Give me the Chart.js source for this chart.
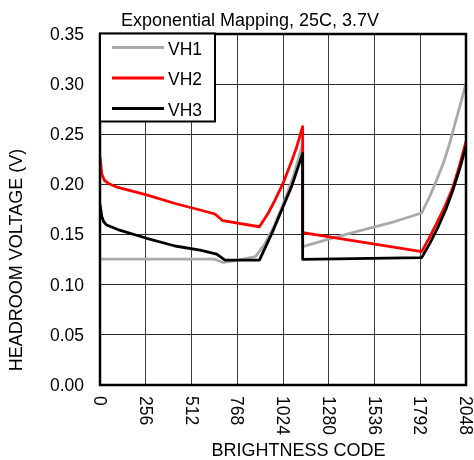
<!DOCTYPE html>
<html>
<head>
<meta charset="utf-8">
<script src="https://cdn.jsdelivr.net/npm/chart.js@4.4.0/dist/chart.umd.min.js"></script>
<style>
  html, body { margin: 0; padding: 0; background: #fff; }
  #wrap { width: 474px; height: 460px; }
</style>
</head>
<body>
<div id="wrap"><canvas id="chart" width="474" height="460"></canvas></div>
<script>
// Headroom voltage vs brightness code
const xTicks = [0, 256, 512, 768, 1024, 1280, 1536, 1792, 2048];
const yTicks = [0.00, 0.05, 0.10, 0.15, 0.20, 0.25, 0.30, 0.35];

const vh1Codes = [0, 640, 690, 760, 870, 920, 970, 1024, 1080, 1134, 1134, 1300, 1467, 1650, 1800, 1845, 1883, 1921, 1955, 1987, 2020, 2048];
const vh1Values = [0.1255, 0.1255, 0.1222, 0.1240, 0.1280, 0.1400, 0.1570, 0.1800, 0.2070, 0.2400, 0.1380, 0.1465, 0.1545, 0.1630, 0.1715, 0.1880, 0.2040, 0.2210, 0.2400, 0.2610, 0.2820, 0.3010];

const vh2Codes = [0, 10, 25, 47, 100, 261, 420, 560, 643, 687, 892, 940, 980, 1024, 1070, 1100, 1134, 1134, 1800, 1840, 1883, 1930, 1976, 2012, 2048];
const vh2Values = [0.2280, 0.2100, 0.2040, 0.2010, 0.1970, 0.1895, 0.1810, 0.1745, 0.1705, 0.1638, 0.1578, 0.1710, 0.1845, 0.2010, 0.2220, 0.2370, 0.2576, 0.1520, 0.1330, 0.1460, 0.1610, 0.1780, 0.1977, 0.2190, 0.2426];

const vh3Codes = [0, 10, 20, 37, 100, 261, 420, 560, 653, 700, 892, 970, 1026, 1072, 1134, 1134, 1800, 1845, 1893, 1935, 1976, 2012, 2048];
const vh3Values = [0.1800, 0.1680, 0.1630, 0.1595, 0.1550, 0.1463, 0.1386, 0.1346, 0.1306, 0.1246, 0.1246, 0.1545, 0.1785, 0.1980, 0.2310, 0.1253, 0.1270, 0.1410, 0.1580, 0.1750, 0.1950, 0.2150, 0.2380];

const seriesLabels = ['VH1', 'VH2', 'VH3'];
const seriesColors = ['#aaaaaa', '#ff0000', '#000000'];

const FONT = '"Liberation Sans", Arial, sans-serif';

function toPoints(codes, values) {
    return codes.map((c, i) => ({ x: c, y: values[i] }));
}

// axis labels, title, frame and legend are drawn here so they sit where the reference has them
const decorPlugin = {
    id: 'decor',
    beforeDraw(chart) {
        const ctx = chart.ctx;
        ctx.save();
        ctx.fillStyle = '#fff';
        ctx.fillRect(0, 0, chart.width, chart.height);
        ctx.restore();
    },
    afterDatasetsDraw(chart) {
        const { ctx, chartArea: a } = chart;
        ctx.save();
        ctx.strokeStyle = '#000';
        ctx.lineWidth = 2.5;
        ctx.strokeRect(a.left, a.top, a.right - a.left, a.bottom - a.top);
        ctx.restore();
    },
    afterDraw(chart) {
        const { ctx, chartArea: a, scales } = chart;
        ctx.save();
        ctx.fillStyle = '#000';

        // y tick labels
        ctx.font = '17.5px ' + FONT;
        ctx.textAlign = 'right';
        ctx.textBaseline = 'middle';
        yTicks.forEach((v) => {
            ctx.fillText(v.toFixed(2), 84, scales.y.getPixelForValue(v) + 1);
        });

        // x tick labels, turned clockwise
        ctx.textAlign = 'left';
        xTicks.forEach((v) => {
            ctx.save();
            ctx.translate(scales.x.getPixelForValue(v) - 1, a.bottom + 11);
            ctx.rotate(Math.PI / 2);
            ctx.fillText(String(v), 0, 0);
            ctx.restore();
        });

        // title
        ctx.font = '18px ' + FONT;
        ctx.textAlign = 'center';
        ctx.textBaseline = 'alphabetic';
        ctx.fillText('Exponential Mapping, 25C, 3.7V', 250, 26);

        // axis titles
        ctx.fillText('BRIGHTNESS CODE', 298.5, 456);
        ctx.save();
        ctx.translate(22, 260);
        ctx.rotate(-Math.PI / 2);
        ctx.fillText('HEADROOM VOLTAGE (V)', 0, 0);
        ctx.restore();

        // legend box
        const lx = 100, ly = 33.5, lw = 115, lh = 88;
        ctx.fillStyle = '#fff';
        ctx.fillRect(lx, ly, lw, lh);
        ctx.strokeStyle = '#000';
        ctx.lineWidth = 2;
        ctx.strokeRect(lx, ly, lw, lh);
        ctx.font = '17.5px ' + FONT;
        ctx.textAlign = 'left';
        chart.data.datasets.forEach((ds, i) => {
            const yy = 47.5 + i * 30.5;
            ctx.strokeStyle = ds.borderColor;
            ctx.lineWidth = 3;
            ctx.beginPath();
            ctx.moveTo(112, yy);
            ctx.lineTo(164, yy);
            ctx.stroke();
            ctx.fillStyle = '#000';
            ctx.fillText(ds.label, 168, yy + 7);
        });
        ctx.restore();
    },
};

new Chart(document.getElementById('chart'), {
    type: 'line',
    data: {
        datasets: [
            { label: seriesLabels[0], data: toPoints(vh1Codes, vh1Values), borderColor: seriesColors[0], order: 3 },
            { label: seriesLabels[1], data: toPoints(vh2Codes, vh2Values), borderColor: seriesColors[1], order: 2 },
            { label: seriesLabels[2], data: toPoints(vh3Codes, vh3Values), borderColor: seriesColors[2], order: 1 },
        ].map((ds) => Object.assign(ds, {
            borderWidth: 2.8,
            borderJoinStyle: 'round',
            pointRadius: 0,
            tension: 0,
            fill: false,
        })),
    },
    options: {
        responsive: false,
        animation: false,
        layout: { padding: { top: 34, right: 8, left: 0, bottom: 0 } },
        plugins: {
            legend: { display: false },
            title: { display: false },
            tooltip: { enabled: false },
        },
        scales: {
            x: {
                type: 'linear',
                min: 0,
                max: 2048,
                afterFit: (s) => { s.height = 75; },
                afterBuildTicks: (s) => { s.ticks = xTicks.map((v) => ({ value: v })); },
                ticks: { display: false },
                grid: { color: '#3a3a3a', lineWidth: 1, drawTicks: false },
                border: { display: false },
            },
            y: {
                type: 'linear',
                min: 0,
                max: 0.35,
                afterFit: (s) => { s.width = 100; },
                afterBuildTicks: (s) => { s.ticks = yTicks.map((v) => ({ value: v })); },
                ticks: { display: false },
                grid: { color: '#2a2a2a', lineWidth: 1, drawTicks: false },
                border: { display: false },
            },
        },
    },
    plugins: [decorPlugin],
});
</script>
</body>
</html>
